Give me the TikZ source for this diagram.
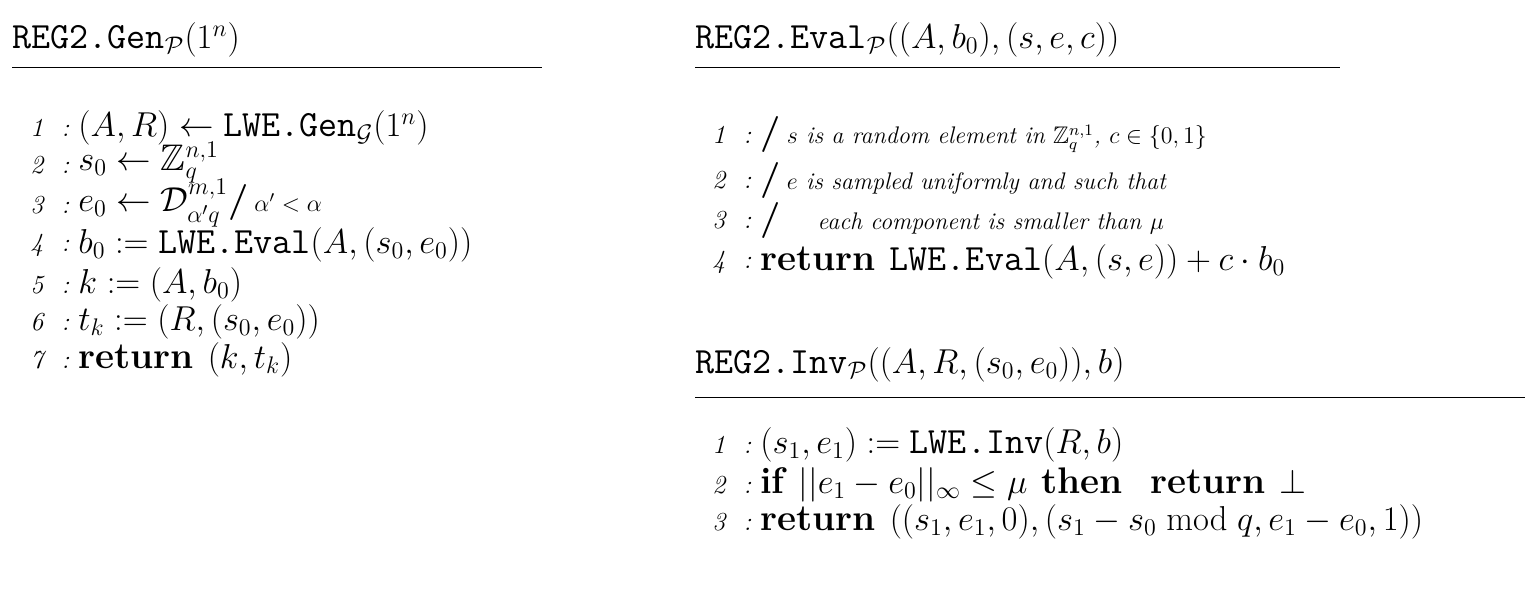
\documentclass[tikz,border=0pt]{standalone}
\usepackage{amsmath,amssymb}
\begin{document}
\begin{tikzpicture}[x=0.5pt,y=-0.5pt,
  every node/.style={inner sep=0pt,anchor=west,font=\fontsize{18.5}{21}\selectfont},
  num/.style={font=\fontsize{13}{15}\selectfont\itshape}]
\useasboundingbox (0,0) rectangle (1534,602);
\newcommand{\Pc}{\mathcal{P}}
\newcommand{\slsh}{{\fontsize{18}{20}\selectfont\bfseries /}}
% left
\node (t1) at (12,40) {$\texttt{REG2.Gen}_{\Pc}(1^n)$};
\draw (12,67) -- (542,67);
\foreach \i/\y in {1/128,2/165,3/205,4/245,5/285,6/322,7/360}{\node[num] (ln\i) at (30,\y) {\i\ \ :};}
\node (l1) at (78,128) {$(A,R)\leftarrow \texttt{LWE.Gen}_{\mathcal{G}}(1^n)$};
\node (l2) at (78,163) {$s_0\leftarrow \mathbb{Z}_q^{n,1}$};
\node (l3) at (78,203) {$e_0\leftarrow \mathcal{D}^{m,1}_{\alpha' q}$\slsh\,{\fontsize{12}{14}\selectfont$\alpha'<\alpha$}};
\node (l4) at (78,245) {$b_0:=\texttt{LWE.Eval}(A,(s_0,e_0))$};
\node (l5) at (78,285) {$k:=(A,b_0)$};
\node (l6) at (78,322) {$t_k:=(R,(s_0,e_0))$};
\node (l7) at (78,360) {$\textbf{return }(k,t_k)$};
% right top
\node (t2) at (695,40) {$\texttt{REG2.Eval}_{\Pc}((A,b_0),(s,e,c))$};
\draw (695,67) -- (1340,67);
\foreach \i/\y in {1/135,2/180,3/220,4/262}{\node[num] (rn\i) at (712,\y) {\i\ \ :};}
\node (r1) at (760,135) {\slsh\,{\fontsize{12}{14}\selectfont\itshape $s$ is a random element in $\mathbb{Z}_q^{n,1}$, $c\in\{0,1\}$}};
\node (r2) at (760,180) {\slsh\,{\fontsize{12}{14}\selectfont\itshape $e$ is sampled uniformly and such that}};
\node (r3) at (760,220) {\slsh\quad{\fontsize{12}{14}\selectfont\itshape each component is smaller than $\mu$}};
\node (r4) at (760,262) {$\textbf{return }\texttt{LWE.Eval}(A,(s,e))+c\cdot b_0$};
% right bottom
\node (t3) at (695,365) {$\texttt{REG2.Inv}_{\Pc}((A,R,(s_0,e_0)),b)$};
\draw (695,397) -- (1525,397);
\foreach \i/\y in {1/445,2/485,3/522}{\node[num] (sn\i) at (712,\y) {\i\ \ :};}
\node (s1) at (760,445) {$(s_1,e_1):=\texttt{LWE.Inv}(R,b)$};
\node (s2) at (760,485) {$\textbf{if }||e_1-e_0||_\infty\le\mu\textbf{ then\ \ return }\bot$};
\node (s3) at (760,522) {$\textbf{return }((s_1,e_1,0),(s_1-s_0 \bmod q,e_1-e_0,1))$};
\end{tikzpicture}
\end{document}
